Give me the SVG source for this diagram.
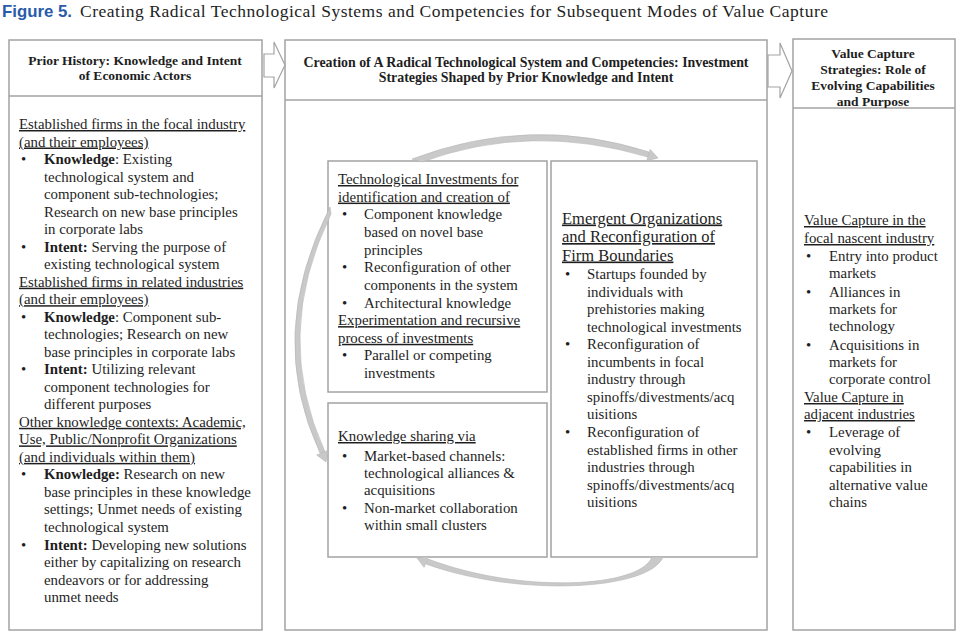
<svg xmlns="http://www.w3.org/2000/svg" width="960" height="637" viewBox="0 0 960 637">
<style>
.bx{fill:#fff;stroke:#a3a3a3;stroke-width:1.5}
.ln{stroke:#a3a3a3;stroke-width:1.5}
.t{font-family:"Liberation Serif","Times New Roman",serif;font-size:14.85px;fill:#1e1e1e}
.h{font-family:"Liberation Serif","Times New Roman",serif;font-size:13.5px;font-weight:bold;fill:#1e1e1e;text-anchor:middle}
.hm{font-size:13.9px}
.u{text-decoration:underline}
.big{font-size:16.5px}
.b{font-weight:bold}
.arc{fill:#c9c9c9;stroke:#b5b5b5;stroke-width:0.6}
.blk{fill:#fff;stroke:#a3a3a3;stroke-width:1.2}
</style>
<defs>
<clipPath id="rhclip"><rect x="793" y="39" width="162" height="69"/></clipPath>
</defs>
<rect width="960" height="637" fill="#fff"/>
<g id="title">
<text x="2" y="17" font-family="Liberation Sans,Arial,sans-serif" font-size="16.5" font-weight="bold" fill="#2a5ba8" textLength="70" lengthAdjust="spacingAndGlyphs">Figure 5.</text>
<text x="80" y="17" font-family="Liberation Serif,Times New Roman,serif" font-size="17.5" fill="#1e1e1e" textLength="748">Creating Radical Technological Systems and Competencies for Subsequent Modes of Value Capture</text>
</g>

<g id="col-prior">
<rect class="bx" x="9" y="40" width="253" height="590"/>
<line class="ln" x1="9" y1="96" x2="262" y2="96"/>
<text class="h" x="135" y="65">Prior History: Knowledge and Intent</text>
<text class="h" x="135" y="80">of Economic Actors</text>
<text class="t u" x="19" y="129">Established firms in the focal industry</text>
<text class="t u" x="19" y="146.5">(and their employees)</text>
<text class="t" x="21" y="164">•</text><text class="t" x="44" y="164"><tspan class="b">Knowledge</tspan>: Existing</text>
<text class="t" x="44" y="181.6">technological system and</text>
<text class="t" x="44" y="199.1">component sub-technologies;</text>
<text class="t" x="44" y="216.6">Research on new base principles</text>
<text class="t" x="44" y="234.1">in corporate labs</text>
<text class="t" x="21" y="251.6">•</text><text class="t" x="44" y="251.6"><tspan class="b">Intent:</tspan> Serving the purpose of</text>
<text class="t" x="44" y="269.2">existing technological system</text>
<text class="t u" x="19" y="286.7">Established firms in related industries</text>
<text class="t u" x="19" y="304.2">(and their employees)</text>
<text class="t" x="21" y="321.7">•</text><text class="t" x="44" y="321.7"><tspan class="b">Knowledge</tspan>: Component sub-</text>
<text class="t" x="44" y="339.2">technologies; Research on new</text>
<text class="t" x="44" y="356.8">base principles in corporate labs</text>
<text class="t" x="21" y="374.3">•</text><text class="t" x="44" y="374.3"><tspan class="b">Intent:</tspan> Utilizing relevant</text>
<text class="t" x="44" y="391.8">component technologies for</text>
<text class="t" x="44" y="409.3">different purposes</text>
<text class="t u" x="19" y="426.8">Other knowledge contexts: Academic,</text>
<text class="t u" x="19" y="444.4">Use, Public/Nonprofit Organizations</text>
<text class="t u" x="19" y="461.9">(and individuals within them)</text>
<text class="t" x="21" y="479.4">•</text><text class="t" x="44" y="479.4"><tspan class="b">Knowledge:</tspan> Research on new</text>
<text class="t" x="44" y="496.9">base principles in these knowledge</text>
<text class="t" x="44" y="514.4">settings; Unmet needs of existing</text>
<text class="t" x="44" y="532">technological system</text>
<text class="t" x="21" y="549.5">•</text><text class="t" x="44" y="549.5"><tspan class="b">Intent:</tspan> Developing new solutions</text>
<text class="t" x="44" y="567">either by capitalizing on research</text>
<text class="t" x="44" y="584.5">endeavors or for addressing</text>
<text class="t" x="44" y="602">unmet needs</text>
</g>

<g id="col-creation">
<rect class="bx" x="285" y="40" width="482" height="590"/>
<line class="ln" x1="285" y1="100" x2="767" y2="100"/>
<text class="h hm" x="526" y="67">Creation of A Radical Technological System and Competencies: Investment</text>
<text class="h hm" x="526" y="82">Strategies Shaped by Prior Knowledge and Intent</text>
</g>

<g id="col-value">
<rect class="bx" x="793" y="39" width="162" height="591"/>
<line class="ln" x1="793" y1="108" x2="955" y2="108"/>
<g clip-path="url(#rhclip)">
<text class="h" x="873" y="58">Value Capture</text>
<text class="h" x="873" y="74">Strategies: Role of</text>
<text class="h" x="873" y="90">Evolving Capabilities</text>
<text class="h" x="873" y="106">and Purpose</text>
</g>
<text class="t u" x="804" y="225">Value Capture in the</text>
<text class="t u" x="804" y="243">focal nascent industry</text>
<text class="t" x="806" y="261">•</text><text class="t" x="829" y="261">Entry into product</text>
<text class="t" x="829" y="278">markets</text>
<text class="t" x="806" y="297">•</text><text class="t" x="829" y="297">Alliances in</text>
<text class="t" x="829" y="314">markets for</text>
<text class="t" x="829" y="331">technology</text>
<text class="t" x="806" y="350">•</text><text class="t" x="829" y="350">Acquisitions in</text>
<text class="t" x="829" y="367">markets for</text>
<text class="t" x="829" y="384">corporate control</text>
<text class="t u" x="804" y="402">Value Capture in</text>
<text class="t u" x="804" y="419">adjacent industries</text>
<text class="t" x="806" y="437">•</text><text class="t" x="829" y="437">Leverage of</text>
<text class="t" x="829" y="455">evolving</text>
<text class="t" x="829" y="472">capabilities in</text>
<text class="t" x="829" y="490">alternative value</text>
<text class="t" x="829" y="507">chains</text>
</g>

<g id="box-tech-investments">
<rect class="bx" x="328" y="161" width="219" height="231"/>
<text class="t u" x="338" y="184">Technological Investments for</text>
<text class="t u" x="338" y="201.6">identification and creation of</text>
<text class="t" x="342" y="219.3">•</text><text class="t" x="364" y="219.3">Component knowledge</text>
<text class="t" x="364" y="236.9">based on novel base</text>
<text class="t" x="364" y="254.6">principles</text>
<text class="t" x="342" y="272.2">•</text><text class="t" x="364" y="272.2">Reconfiguration of other</text>
<text class="t" x="364" y="289.8">components in the system</text>
<text class="t" x="342" y="307.5">•</text><text class="t" x="364" y="307.5">Architectural knowledge</text>
<text class="t u" x="338" y="325.1">Experimentation and recursive</text>
<text class="t u" x="338" y="342.8">process of investments</text>
<text class="t" x="342" y="360.4">•</text><text class="t" x="364" y="360.4">Parallel or competing</text>
<text class="t" x="364" y="378">investments</text>
</g>

<g id="box-knowledge-sharing">
<rect class="bx" x="328" y="403" width="219" height="154"/>
<text class="t u" x="338" y="441">Knowledge sharing via</text>
<text class="t" x="342" y="461">•</text><text class="t" x="364" y="461">Market-based channels:</text>
<text class="t" x="364" y="478">technological alliances &amp;</text>
<text class="t" x="364" y="495">acquisitions</text>
<text class="t" x="342" y="513">•</text><text class="t" x="364" y="513">Non-market collaboration</text>
<text class="t" x="364" y="530">within small clusters</text>
</g>

<g id="box-emergent">
<rect class="bx" x="551" y="161" width="206" height="396"/>
<text class="t u big" x="562" y="223.5">Emergent Organizations</text>
<text class="t u big" x="562" y="242">and Reconfiguration of</text>
<text class="t u big" x="562" y="260.5">Firm Boundaries</text>
<text class="t" x="565" y="279">•</text><text class="t" x="587" y="279">Startups founded by</text>
<text class="t" x="587" y="296.5">individuals with</text>
<text class="t" x="587" y="314">prehistories making</text>
<text class="t" x="587" y="331.5">technological investments</text>
<text class="t" x="565" y="349">•</text><text class="t" x="587" y="349">Reconfiguration of</text>
<text class="t" x="587" y="366.5">incumbents in focal</text>
<text class="t" x="587" y="384">industry through</text>
<text class="t" x="587" y="401.5">spinoffs/divestments/acq</text>
<text class="t" x="587" y="419">uisitions</text>
<text class="t" x="565" y="437">•</text><text class="t" x="587" y="437">Reconfiguration of</text>
<text class="t" x="587" y="454.5">established firms in other</text>
<text class="t" x="587" y="472">industries through</text>
<text class="t" x="587" y="489.5">spinoffs/divestments/acq</text>
<text class="t" x="587" y="507">uisitions</text>
</g>

<g id="connectors">
<polygon class="blk" points="264,54 274,54 274,42 285,65 274,88 274,77 264,77"/>
<polygon class="blk" points="768,55 780,55 780,43 792,71 780,98 780,87 768,87"/>
<path class="arc" d="M412,159 Q530,114 649,152 L648,157 Q530,122 422,162 Z"/>
<polygon class="arc" points="658,158 646.7,160.8 650.2,149.4"/>
<path class="arc" d="M330,207 Q265,335 320,453 L325,452 Q272,335 331,214 Z"/>
<polygon class="arc" points="326,462 316.7,455 327.8,450.4"/>
<path class="arc" d="M663,557 C650,590 520,598 426,564 L428,559 C520,594 640,588 652,557 Z"/>
<polygon class="arc" points="417,558 428.5,556.2 424.1,567.3"/>
</g>
</svg>
